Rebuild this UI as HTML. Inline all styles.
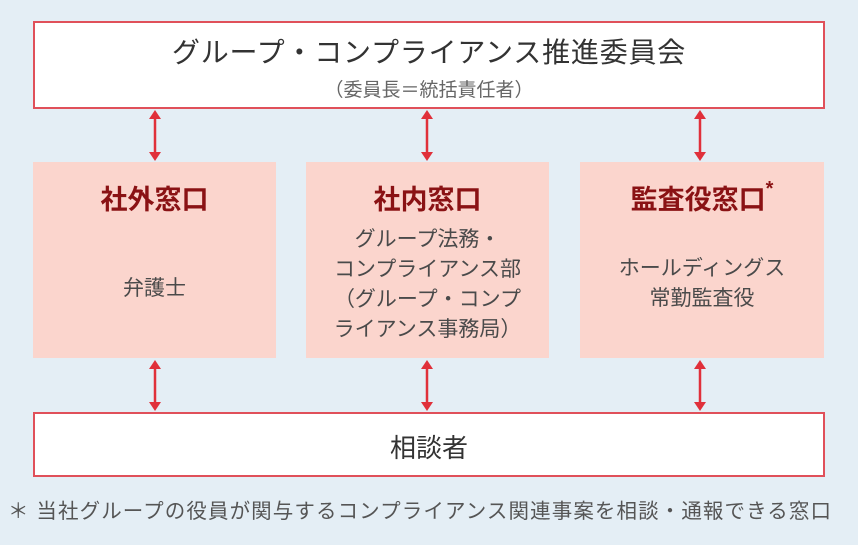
<!DOCTYPE html>
<html><head><meta charset="utf-8">
<style>
body{margin:0;width:858px;height:545px;background:#e4eef5;position:relative;overflow:hidden;font-family:"Liberation Sans","Noto Sans CJK JP",sans-serif;}
.b{position:absolute;box-sizing:border-box;}
.w{background:#fff;border:2px solid #e0505a;}
.p{background:#fbd5cd;}
.t{position:absolute;left:0;right:0;text-align:center;white-space:nowrap;}
.h{color:#8a1214;font-weight:bold;font-size:27px;}
.g{color:#4a4a4a;font-size:21px;line-height:30px;}
</style></head><body>
<div class="b w" style="left:33px;top:21px;width:792px;height:88px;">
  <div class="t" style="top:8px;font-size:28px;color:#333;letter-spacing:0.8px;">グループ・コンプライアンス推進委員会</div>
  <div class="t" style="top:52px;font-size:19px;color:#666;">（委員長＝統括責任者）</div>
</div>
<div class="b p" style="left:33px;top:162px;width:243px;height:196px;">
  <div class="t h" style="top:16px;">社外窓口</div>
  <div class="t g" style="top:112px;">弁護士</div>
</div>
<div class="b p" style="left:306px;top:162px;width:243px;height:196px;">
  <div class="t h" style="top:16px;">社内窓口</div>
  <div class="t g" style="top:63px;">グループ法務・<br>コンプライアンス部<br>（グループ・コンプ<br>ライアンス事務局）</div>
</div>
<div class="b p" style="left:580px;top:162px;width:244px;height:196px;">
  <div class="t h" style="top:16px;">監査役窓口<span style="font-size:20px;vertical-align:top;">*</span></div>
  <div class="t g" style="top:92px;">ホールディングス<br>常勤監査役</div>
</div>
<div class="b w" style="left:33px;top:412px;width:792px;height:65px;">
  <div class="t" style="top:14px;font-size:26px;color:#333;">相談者</div>
</div>
<div class="b" style="left:8px;top:494px;font-size:20.5px;color:#555;white-space:nowrap;letter-spacing:1.1px;">＊ 当社グループの役員が関与するコンプライアンス関連事案を相談・通報できる窓口</div>
<svg width="858" height="545" style="position:absolute;left:0;top:0" fill="#e0303a" stroke="#e0303a">
<g stroke-width="2.5">
<line x1="155" y1="116" x2="155" y2="154"/><line x1="427" y1="116" x2="427" y2="154"/><line x1="700" y1="116" x2="700" y2="154"/>
<line x1="155" y1="366" x2="155" y2="404"/><line x1="427" y1="366" x2="427" y2="404"/><line x1="700" y1="366" x2="700" y2="404"/>
</g>
<g stroke="none">
<polygon points="155,110 149,119 161,119"/><polygon points="155,161 149,152 161,152"/>
<polygon points="427,110 421,119 433,119"/><polygon points="427,161 421,152 433,152"/>
<polygon points="700,110 694,119 706,119"/><polygon points="700,161 694,152 706,152"/>
<polygon points="155,360 149,369 161,369"/><polygon points="155,411 149,402 161,402"/>
<polygon points="427,360 421,369 433,369"/><polygon points="427,411 421,402 433,402"/>
<polygon points="700,360 694,369 706,369"/><polygon points="700,411 694,402 706,402"/>
</g>
</svg>
</body></html>
